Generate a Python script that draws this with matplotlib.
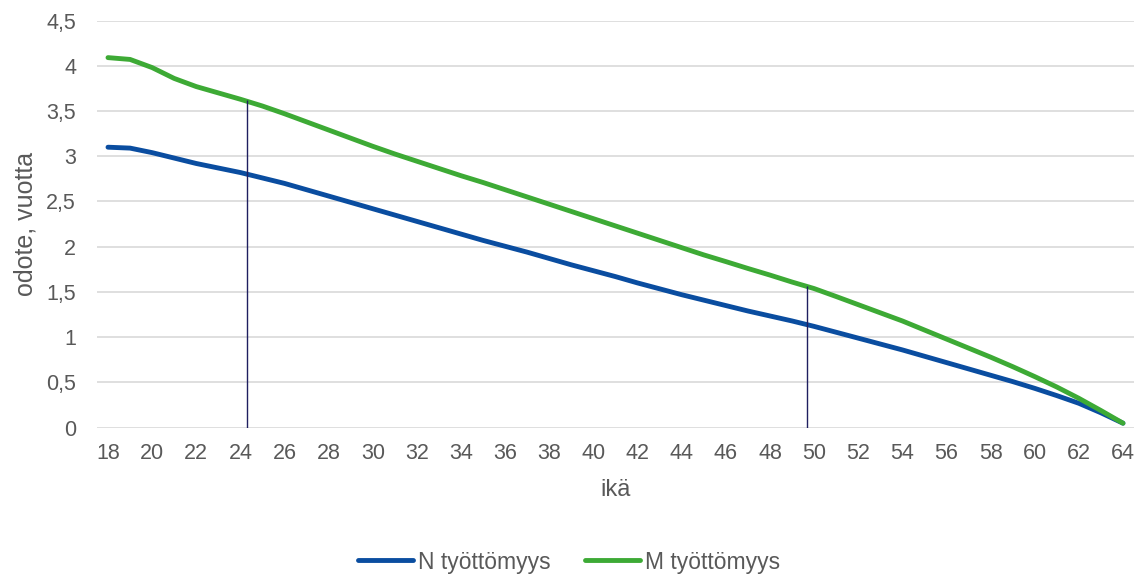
import numpy as np
import matplotlib
matplotlib.use("Agg")
import matplotlib.pyplot as plt

plt.rcParams['font.family'] = ['Liberation Sans', 'DejaVu Sans']

# ages and expected unemployment duration (years)
ika = np.arange(18, 65)
n_tyottomyys = [3.10, 3.09, 3.04, 2.98, 2.92, 2.87, 2.82, 2.76, 2.70, 2.63,
                2.56, 2.49, 2.42, 2.35, 2.28, 2.21, 2.14, 2.07, 2.005, 1.94,
                1.87, 1.80, 1.735, 1.67, 1.60, 1.535, 1.47, 1.41, 1.35, 1.29,
                1.235, 1.18, 1.12, 1.055, 0.99, 0.925, 0.86, 0.79, 0.72, 0.65,
                0.58, 0.51, 0.435, 0.355, 0.27, 0.165, 0.05]
m_tyottomyys = [4.09, 4.07, 3.98, 3.86, 3.77, 3.70, 3.63, 3.555, 3.47, 3.38,
                3.29, 3.20, 3.11, 3.025, 2.945, 2.865, 2.785, 2.71, 2.63, 2.55,
                2.47, 2.39, 2.31, 2.23, 2.15, 2.07, 1.99, 1.91, 1.836, 1.76,
                1.687, 1.61, 1.538, 1.45, 1.36, 1.27, 1.18, 1.08, 0.98, 0.88,
                0.78, 0.675, 0.565, 0.45, 0.325, 0.19, 0.05]

# marker lines
merkki_x = [24.3, 49.7]
merkki_y = [3.62, 1.57]

sininen = '#0A4DA0'
vihrea = '#3DAA35'
harmaa = '#595959'

fig = plt.figure(figsize=(11.38, 5.78), dpi=100)
ax = fig.add_axes([0.0852, 0.26, 0.9113, 0.7045])

ax.plot(ika, n_tyottomyys, color=sininen, lw=3.5, solid_capstyle='round',
        label='N työttömyys', zorder=3)
ax.plot(ika, m_tyottomyys, color=vihrea, lw=3.5, solid_capstyle='round',
        label='M työttömyys', zorder=3)
ax.vlines(merkki_x, 0, merkki_y, color='#1F1F60', lw=1.0, zorder=4)

ax.set_xlim(17.5, 64.5)
ax.set_ylim(0, 4.5)
ax.set_xticks(ika[::2])
ax.set_yticks(np.arange(0, 4.51, 0.5))
ax.set_yticklabels([f'{v:g}'.replace('.', ',') for v in np.arange(0, 4.51, 0.5)])

ax.grid(axis='y', color='#D9D9D9', lw=1.2, zorder=0)
for s in ax.spines.values():
    s.set_visible(False)
ax.tick_params(axis='both', length=0, labelsize=15.5, labelcolor=harmaa)
ax.tick_params(axis='y', pad=15)
ax.tick_params(axis='x', pad=11)

ax.set_xlabel('ikä', fontsize=17, color=harmaa, labelpad=11)
ax.set_ylabel('odote, vuotta', fontsize=18, color=harmaa, labelpad=6)

fig.legend(loc='center', bbox_to_anchor=(0.5, 1 - 562 / 578), ncol=2,
           frameon=False, fontsize=16.5, handlelength=2.4, handletextpad=0.2,
           columnspacing=1.5, labelcolor=harmaa)

fig.savefig('out.png', dpi=100)
